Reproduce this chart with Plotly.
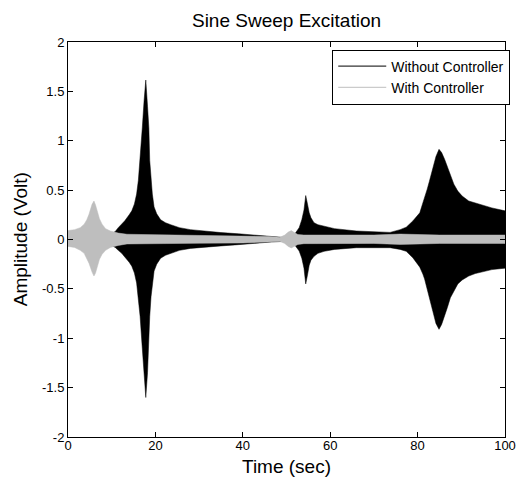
import plotly.graph_objects as go

# ---- Data (envelopes) ----
black_t = [0, 5, 10, 10.8, 11.5, 12.3, 13.0, 14.0, 14.6, 15.2, 15.7, 16.1, 16.5, 17.0, 17.4,
           17.8, 18.2, 18.5, 18.7, 19.0, 19.3, 19.7, 20.3, 21.2, 22.3, 23.5, 25.5, 28, 32, 35,
           39, 43, 46.6, 49, 50.5, 51.8, 52.9, 53.5, 54.0, 54.4, 54.8, 55.2, 55.6, 56.3, 57.2,
           58.6, 61, 66, 70, 73.7, 76, 77.4, 78.9, 80.0, 80.5, 81.2, 81.6, 82.2, 82.7, 83.5,
           84.2, 84.9, 85.5, 86.2, 86.8, 87.5, 88.3, 89.2, 90.2, 91.7, 93.2, 95, 97, 100]
black_upper = [0.04, 0.04, 0.06, 0.08, 0.12, 0.155, 0.19, 0.25, 0.29, 0.36, 0.46, 0.6, 0.8, 1.13, 1.4,
               1.615, 1.35, 1.13, 0.8, 0.6, 0.46, 0.33, 0.26, 0.2, 0.17, 0.15, 0.12, 0.1, 0.08, 0.07,
               0.058, 0.045, 0.032, 0.022, 0.025, 0.05, 0.12, 0.2, 0.3, 0.445, 0.36, 0.27, 0.22, 0.17, 0.15,
               0.135, 0.11, 0.086, 0.075, 0.072, 0.1, 0.125, 0.187, 0.245, 0.27, 0.37, 0.42, 0.51, 0.59, 0.72,
               0.84, 0.913, 0.88, 0.81, 0.74, 0.65, 0.56, 0.49, 0.44, 0.39, 0.37, 0.345, 0.32, 0.29]
black_lower = [-0.04, -0.04, -0.06, -0.08, -0.11, -0.14, -0.17, -0.23, -0.27, -0.34, -0.44, -0.58, -0.78, -1.1, -1.38,
               -1.6, -1.35, -1.1, -0.78, -0.58, -0.44, -0.32, -0.25, -0.19, -0.16, -0.14, -0.11, -0.09, -0.075, -0.065,
               -0.052, -0.04, -0.025, -0.02, -0.025, -0.05, -0.116, -0.19, -0.29, -0.45, -0.36, -0.26, -0.21, -0.17, -0.14,
               -0.12, -0.1, -0.083, -0.08, -0.083, -0.1, -0.12, -0.184, -0.25, -0.28, -0.35, -0.4, -0.49, -0.59, -0.73,
               -0.85, -0.91, -0.86, -0.77, -0.69, -0.59, -0.52, -0.45, -0.41, -0.37, -0.345, -0.325, -0.305, -0.29]

gray_t = [0, 1.5, 2.8, 3.7, 4.3, 4.8, 5.5, 5.94, 6.3, 6.7, 7.2, 7.8, 8.6, 9.7, 11.5, 13.5, 20, 30, 40,
          46, 48.5, 49.6, 50.4, 51.1, 51.8, 52.6, 54, 60, 70, 76, 79, 85, 100]
gray_upper = [0.09, 0.1, 0.12, 0.155, 0.2, 0.255, 0.356, 0.39, 0.35, 0.29, 0.21, 0.155, 0.11, 0.086, 0.065, 0.053,
              0.048, 0.045, 0.04, 0.03, 0.022, 0.045, 0.075, 0.09, 0.07, 0.05, 0.045, 0.045, 0.045, 0.055, 0.05,
              0.045, 0.045]
gray_lower = [-0.07, -0.08, -0.11, -0.14, -0.19, -0.24, -0.33, -0.37, -0.34, -0.28, -0.2, -0.15, -0.11, -0.08, -0.06,
              -0.045, -0.04, -0.038, -0.035, -0.025, -0.02, -0.04, -0.07, -0.085, -0.07, -0.05, -0.042, -0.04, -0.04,
              -0.05, -0.045, -0.04, -0.04]

series_names = ["Without Controller", "With Controller"]
series_colors = ["#000000", "#bebebe"]

x_ticks = [0, 20, 40, 60, 80, 100]
y_ticks = [-2, -1.5, -1, -0.5, 0, 0.5, 1, 1.5, 2]
y_ticktext = ["-2", "-1.5", "-1", "-0.5", "0", "0.5", "1", "1.5", "2"]

FONT = "Arial, Liberation Sans, sans-serif"

fig = go.Figure()

envelopes = [(black_t, black_upper, black_lower), (gray_t, gray_upper, gray_lower)]
for (t, up, lo), name, col in zip(envelopes, series_names, series_colors):
    fig.add_trace(go.Scatter(
        x=list(t) + list(t[::-1]),
        y=list(up) + list(lo[::-1]),
        fill="toself", fillcolor=col, mode="lines",
        line=dict(color=col, width=0.5),
        showlegend=False, hoverinfo="skip"))

for name, col in zip(series_names, series_colors):
    fig.add_trace(go.Scatter(x=[None], y=[None], mode="lines", name=name,
                             line=dict(color=col, width=1)))

axis_common = dict(showline=True, linecolor="black", linewidth=1, mirror="ticks",
                   ticks="inside", ticklen=5, tickcolor="black", showgrid=False,
                   zeroline=False, tickfont=dict(family=FONT, size=13, color="#000000"))

fig.update_layout(
    width=528, height=484,
    margin=dict(l=68, r=16, t=42, b=47),
    paper_bgcolor="white", plot_bgcolor="white",
    font=dict(family=FONT, color="#000000"),
    title=dict(text="Sine Sweep Excitation", x=0.5, xref="paper", xanchor="center",
               y=1 - 20 / 484, yref="container", yanchor="middle",
               font=dict(family=FONT, size=19, color="#000000")),
    xaxis=dict(range=[0, 100], tickvals=x_ticks, ticklabelstandoff=-4, **axis_common),
    yaxis=dict(range=[-2, 2], tickvals=y_ticks, ticktext=y_ticktext, **axis_common),
    legend=dict(x=1.012, y=0.981, xanchor="right", yanchor="top",
                bordercolor="black", borderwidth=1, bgcolor="white",
                font=dict(family=FONT, size=14, color="#000000"),
                itemwidth=48, tracegroupgap=0),
    annotations=[
        dict(text="Time (sec)", x=0.5, y=-(466 - 436.5) / 395, xref="paper", yref="paper",
             xanchor="center", yanchor="middle", showarrow=False,
             font=dict(family=FONT, size=19, color="#000000")),
        dict(text="Amplitude (Volt)", x=-(68 - 20) / 444, y=0.5, xref="paper", yref="paper",
             xanchor="center", yanchor="middle", textangle=-90, showarrow=False,
             font=dict(family=FONT, size=19, color="#000000")),
    ],
)

fig.write_html("out.html")
